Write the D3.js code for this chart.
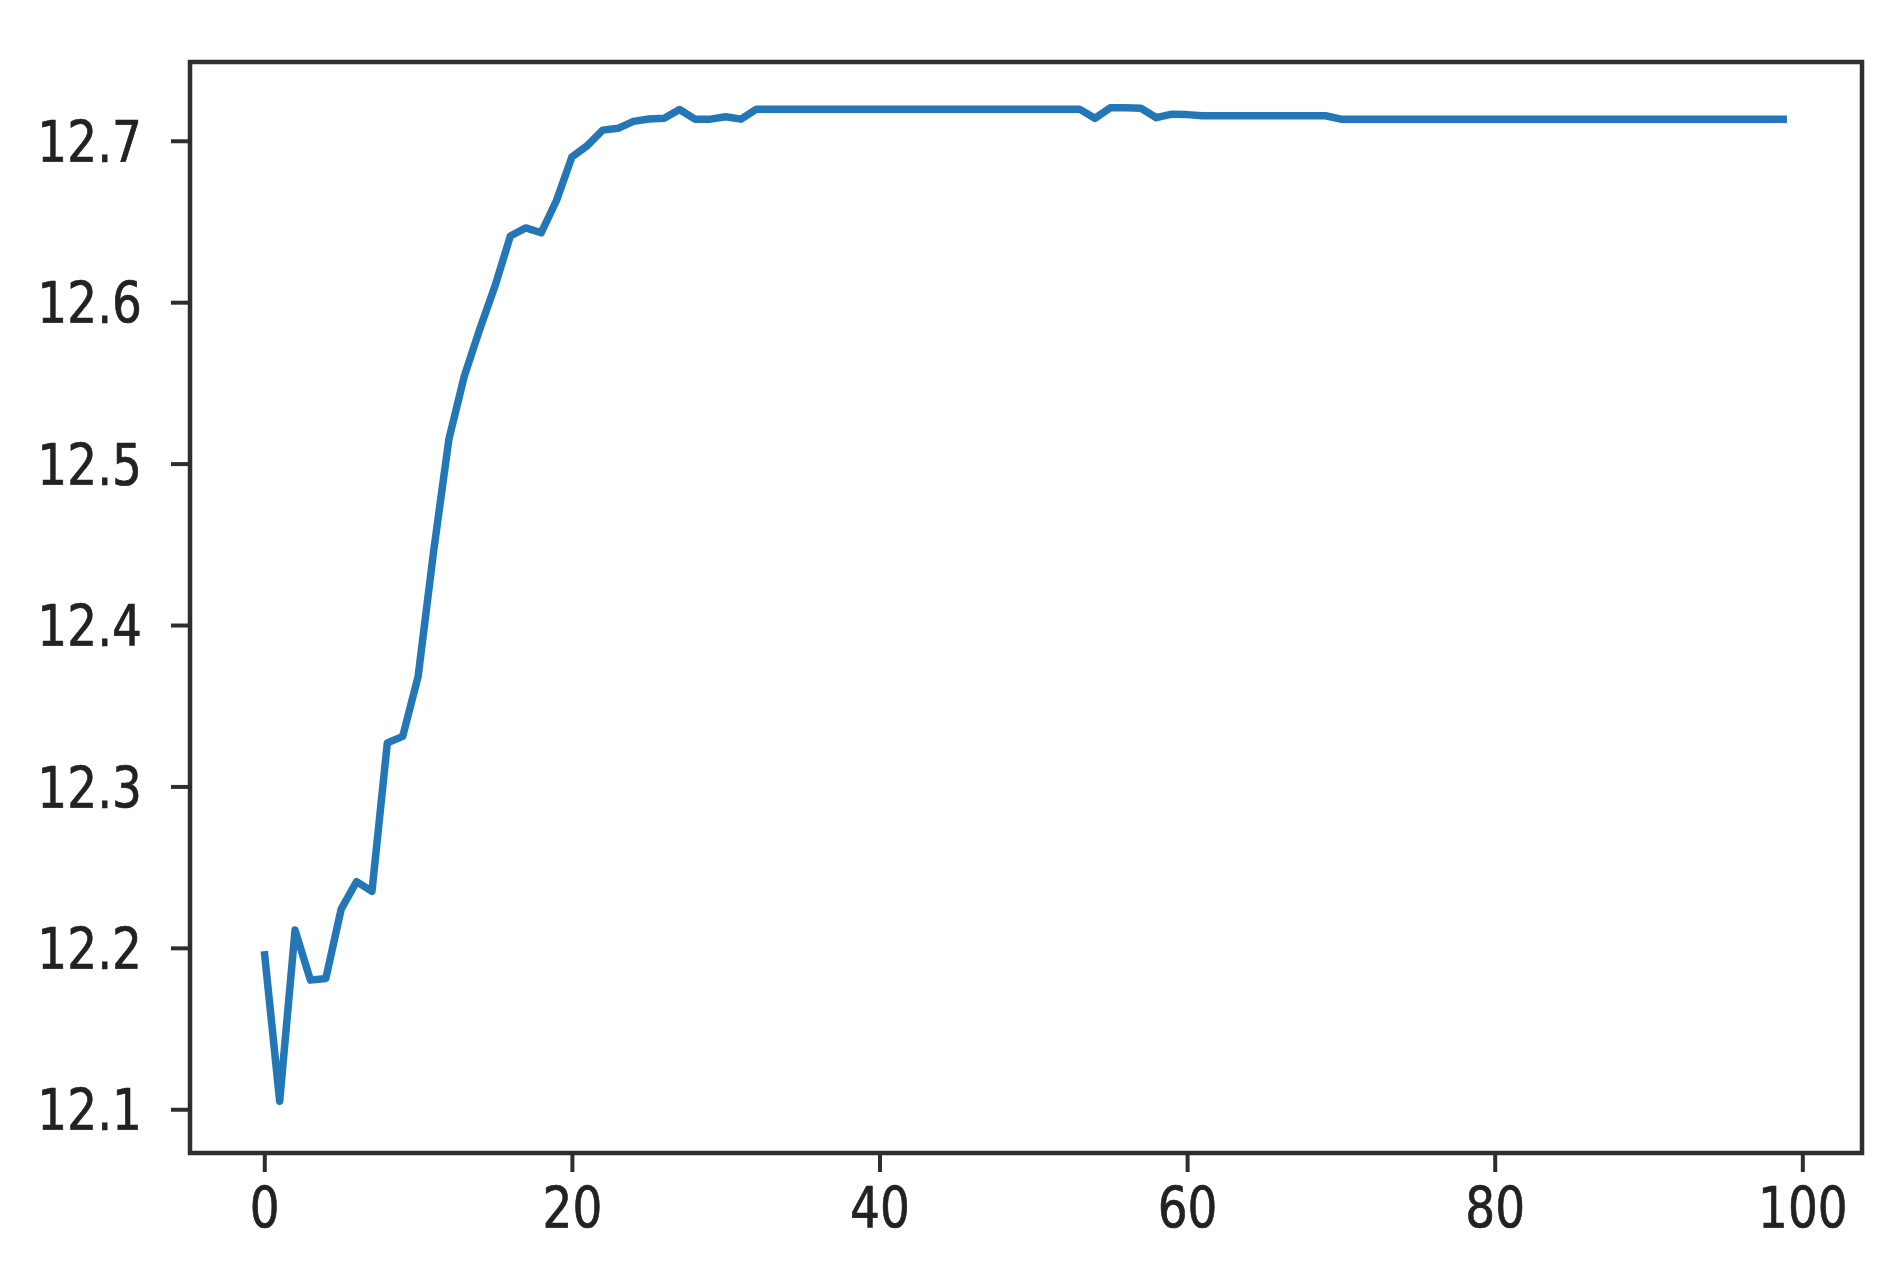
<!DOCTYPE html>
<html>
<head>
<meta charset="utf-8">
<script src="https://cdn.jsdelivr.net/npm/d3@7"></script>
<style>
  html, body { margin: 0; padding: 0; background: #ffffff; }
  svg { display: block; }
</style>
</head>
<body>
<script>
// ---- Data ----
const epochs = d3.range(0, 100);
const scores = [
  12.198, 12.105, 12.211, 12.180, 12.181, 12.224, 12.241, 12.235, 12.327, 12.331,
  12.368, 12.445, 12.515, 12.554, 12.583, 12.610, 12.641, 12.646, 12.643, 12.663,
  12.690, 12.697, 12.7066, 12.7077, 12.7120, 12.7135, 12.7140, 12.7194, 12.7134, 12.7134,
  12.7149, 12.7134, 12.7196, 12.7196, 12.7196, 12.7196, 12.7196, 12.7196, 12.7196, 12.7196,
  12.7196, 12.7196, 12.7196, 12.7196, 12.7196, 12.7196, 12.7196, 12.7196, 12.7196, 12.7196,
  12.7196, 12.7196, 12.7196, 12.7196, 12.7139, 12.7204, 12.7204, 12.7201, 12.7143, 12.7165,
  12.7162, 12.7155, 12.7155, 12.7155, 12.7155, 12.7155, 12.7155, 12.7155, 12.7155, 12.7155,
  12.7134, 12.7134, 12.7134, 12.7134, 12.7134, 12.7134, 12.7134, 12.7134, 12.7134, 12.7134,
  12.7134, 12.7134, 12.7134, 12.7134, 12.7134, 12.7134, 12.7134, 12.7134, 12.7134, 12.7134,
  12.7134, 12.7134, 12.7134, 12.7134, 12.7134, 12.7134, 12.7134, 12.7134, 12.7134, 12.7134
];
const xTicks = [0, 20, 40, 60, 80, 100];
const yTicks = [12.1, 12.2, 12.3, 12.4, 12.5, 12.6, 12.7];

// ---- Layout ----
const W = 1898, H = 1268;
const plot = { left: 190, right: 1862, top: 62, bottom: 1153 };

const svg = d3.select("body").append("svg")
  .attr("width", W).attr("height", H);

const x = d3.scaleLinear().domain([-4.83, 103.88]).range([plot.left, plot.right]);
const y = d3.scaleLinear().domain([12.0729, 12.7488]).range([plot.bottom, plot.top]);

const axisColor = "#2e2e2e";
const textColor = "#222222";
const fontSize = 47;
const stretchY = 1.2;

// Line
const line = d3.line()
  .x((d, i) => x(epochs[i]))
  .y(d => y(d));

svg.append("path")
  .datum(scores)
  .attr("fill", "none")
  .attr("stroke", "#2477b6")
  .attr("stroke-width", 7.5)
  .attr("stroke-linejoin", "round")
  .attr("stroke-linecap", "butt")
  .attr("d", line);

// Axes
const xAxis = d3.axisBottom(x).tickValues(xTicks).tickSize(19).tickFormat(d3.format("d"));
const yAxis = d3.axisLeft(y).tickValues(yTicks).tickSize(19).tickFormat(d3.format(".1f"));

const gx = svg.append("g").attr("transform", `translate(0,${plot.bottom})`).call(xAxis);
const gy = svg.append("g").attr("transform", `translate(${plot.left},0)`).call(yAxis);

[gx, gy].forEach(g => {
  g.select(".domain").remove();
  g.selectAll(".tick line").attr("stroke", axisColor).attr("stroke-width", 4);
  g.selectAll(".tick text")
    .attr("fill", textColor)
    .attr("stroke", textColor)
    .attr("stroke-width", 0.6)
    .attr("x", 0).attr("dy", null)
    .attr("y", 0.365 * fontSize)
    .style("font-family", "'DejaVu Sans', sans-serif")
    .style("font-size", fontSize + "px");
});
// place labels: digit centre at anchor point, stretched vertically
gx.selectAll(".tick text")
  .attr("text-anchor", "middle")
  .attr("transform", `translate(0,54) scale(1,${stretchY})`);
gy.selectAll(".tick text")
  .attr("text-anchor", "end")
  .attr("transform", `translate(-48,0) scale(1,${stretchY})`);

// Frame (spines)
svg.append("rect")
  .attr("x", plot.left).attr("y", plot.top)
  .attr("width", plot.right - plot.left)
  .attr("height", plot.bottom - plot.top)
  .attr("fill", "none")
  .attr("stroke", axisColor)
  .attr("stroke-width", 4.5);
</script>
</body>
</html>
